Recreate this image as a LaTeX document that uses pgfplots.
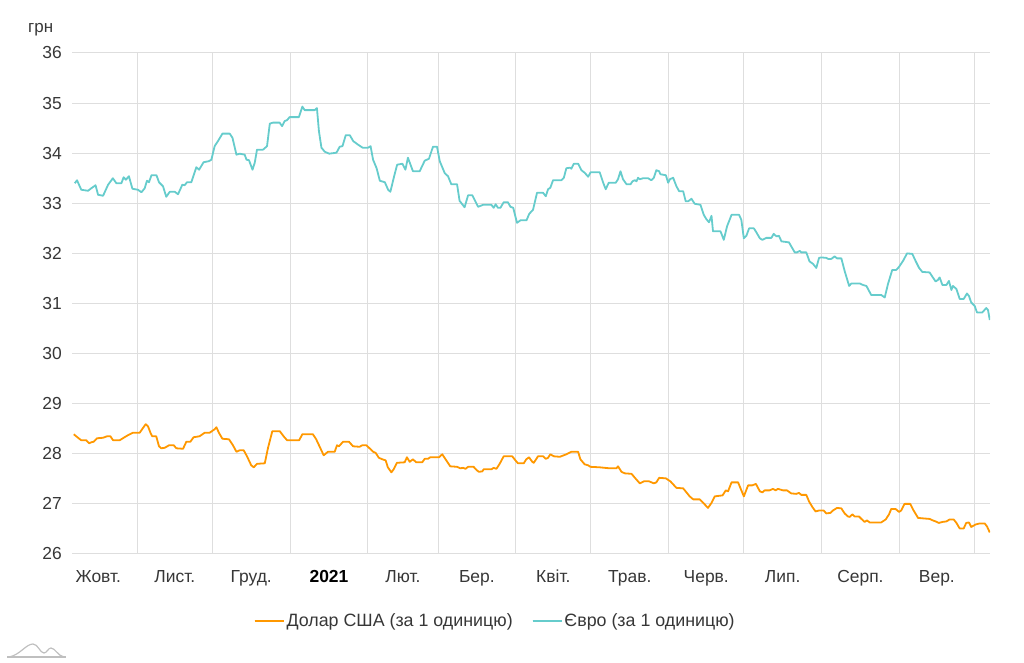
\documentclass[border=0pt]{standalone}
\usepackage{pgfplots}
\pgfplotsset{compat=1.18}
\usepackage{pgfplotstable}
\usepackage{fontspec}
\setmainfont{Liberation Sans}
\definecolor{usd}{RGB}{255,152,0}
\definecolor{eur}{RGB}{102,204,204}
\definecolor{gridc}{RGB}{222,222,222}
\definecolor{txt}{RGB}{55,55,55}

\pgfplotstableread{
d v
6.1 33.40
7.0 33.46
8.7 33.27
11.4 33.25
12.7 33.30
14.4 33.36
15.4 33.17
17.4 33.15
19.4 33.37
21.3 33.50
22.7 33.40
24.7 33.40
25.6 33.52
26.5 33.47
27.7 33.54
29.1 33.29
31.3 33.27
32.7 33.22
34.0 33.30
34.9 33.45
35.7 33.42
36.7 33.56
38.7 33.56
39.7 33.42
41.3 33.34
42.6 33.13
44.0 33.23
46.0 33.23
47.3 33.18
49.0 33.37
49.9 33.36
50.9 33.42
52.6 33.42
54.6 33.72
55.7 33.67
57.5 33.82
59.6 33.84
60.6 33.87
61.9 34.14
63.2 34.24
65.0 34.39
67.9 34.39
69.0 34.31
70.6 33.97
71.9 33.99
73.9 33.97
74.6 33.87
75.6 33.86
77.0 33.67
77.9 33.81
78.8 34.07
81.2 34.07
82.8 34.14
83.9 34.59
85.2 34.61
87.8 34.61
88.8 34.54
89.8 34.64
90.8 34.66
91.8 34.72
95.5 34.72
96.9 34.93
97.8 34.86
101.8 34.86
102.7 34.90
103.5 34.44
104.5 34.11
105.8 34.03
107.6 33.99
110.5 34.01
111.8 34.13
112.9 34.14
114.2 34.36
115.8 34.36
117.2 34.24
119.1 34.17
120.9 34.11
123.1 34.11
124.1 34.14
125.1 33.87
126.5 33.70
127.8 33.45
129.8 33.42
131.1 33.27
132.0 33.23
133.5 33.54
134.7 33.77
136.8 33.79
138.0 33.67
139.0 33.91
141.0 33.64
143.7 33.64
145.7 33.85
147.4 33.89
149.0 34.13
150.6 34.13
151.7 33.84
153.7 33.60
155.0 33.54
156.3 33.38
158.6 33.38
159.6 33.05
161.6 32.92
163.0 33.16
164.7 33.16
167.0 32.93
169.0 32.97
172.3 32.97
173.2 32.91
174.0 32.98
174.9 32.91
175.9 32.91
177.2 33.02
178.9 33.02
179.9 32.93
181.0 32.91
182.5 32.61
183.9 32.66
186.3 32.66
187.4 32.79
188.9 32.87
190.5 33.21
192.9 33.21
194.0 33.14
194.9 33.28
195.8 33.31
196.9 33.46
200.2 33.46
201.2 33.51
202.2 33.70
203.6 33.71
204.2 33.69
205.2 33.79
206.9 33.79
208.2 33.66
209.5 33.61
210.9 33.53
211.9 33.62
215.5 33.62
216.9 33.41
217.9 33.28
219.1 33.41
221.9 33.41
222.8 33.48
223.8 33.64
224.8 33.48
226.2 33.38
227.8 33.38
228.6 33.44
229.5 33.46
230.2 33.44
230.8 33.51
231.5 33.48
232.8 33.50
234.8 33.50
236.1 33.46
237.1 33.51
238.1 33.66
239.2 33.64
239.7 33.58
241.9 33.56
242.8 33.41
243.5 33.48
244.8 33.51
246.1 33.34
247.2 33.24
248.8 33.24
249.8 33.04
250.8 33.04
252.1 33.09
253.4 32.99
255.7 32.97
257.0 32.77
258.1 32.68
259.1 32.62
260.1 32.75
260.7 32.44
263.7 32.44
265.0 32.27
266.3 32.54
268.1 32.77
271.1 32.77
272.0 32.67
273.0 32.30
274.0 32.35
275.1 32.50
277.0 32.50
278.0 32.42
279.4 32.30
280.4 32.27
282.0 32.31
284.0 32.31
284.9 32.39
286.0 32.34
287.0 32.35
288.0 32.24
291.0 32.22
293.3 32.02
294.2 32.02
295.3 32.05
295.9 32.02
297.9 32.02
299.2 31.84
300.6 31.79
301.9 31.71
303.0 31.91
303.9 31.92
305.9 31.91
306.6 31.89
307.9 31.89
309.2 31.94
310.2 31.90
311.9 31.90
313.2 31.65
315.0 31.35
315.9 31.40
319.2 31.40
320.5 31.37
321.9 31.35
323.8 31.17
327.8 31.17
329.2 31.12
330.5 31.39
332.2 31.67
333.8 31.67
334.9 31.73
336.5 31.85
338.1 32.00
340.2 31.99
341.5 31.85
342.9 31.71
344.2 31.63
347.1 31.62
348.4 31.52
349.5 31.44
350.4 31.47
351.1 31.52
352.2 31.37
353.8 31.37
354.8 31.45
355.8 31.27
356.4 31.35
357.8 31.29
359.1 31.09
360.7 31.09
362.0 31.20
362.8 31.15
363.7 31.02
365.1 30.95
366.0 30.82
368.1 30.82
369.7 30.91
370.4 30.87
371.1 30.67
}\eurtable

\pgfplotstableread{
d v
5.7 28.39
7.4 28.32
8.7 28.27
10.7 28.27
11.8 28.21
12.7 28.23
13.6 28.24
15.0 28.31
17.4 28.32
19.0 28.35
20.3 28.35
21.4 28.27
24.0 28.27
25.3 28.31
27.3 28.37
29.3 28.42
32.0 28.42
33.1 28.50
34.4 28.59
35.3 28.55
36.3 28.42
37.0 28.35
38.6 28.35
39.7 28.15
40.6 28.11
42.0 28.12
43.7 28.17
45.6 28.17
46.6 28.11
49.3 28.10
50.6 28.24
52.2 28.24
53.5 28.33
55.9 28.35
57.9 28.42
59.9 28.42
61.9 28.49
62.6 28.53
63.6 28.42
65.0 28.30
67.6 28.29
69.2 28.17
70.6 28.04
71.9 28.07
73.5 28.07
74.8 27.95
76.5 27.77
77.5 27.73
78.8 27.80
81.9 27.81
83.2 28.12
84.9 28.45
87.9 28.45
89.4 28.35
90.8 28.27
95.6 28.27
96.9 28.39
101.1 28.39
102.4 28.29
104.0 28.12
105.4 27.97
107.1 28.04
109.8 28.04
110.7 28.17
111.5 28.15
113.1 28.24
115.5 28.24
117.1 28.15
119.7 28.14
120.8 28.17
122.4 28.17
123.7 28.11
125.1 28.04
126.1 28.02
127.4 27.92
128.8 27.89
130.1 27.87
131.0 27.73
132.4 27.63
133.3 27.69
134.6 27.82
137.7 27.83
138.6 27.93
139.7 27.84
141.0 27.89
142.3 27.83
144.7 27.83
145.7 27.90
147.0 27.90
147.9 27.93
151.4 27.93
152.7 27.99
154.3 27.87
155.9 27.75
158.6 27.74
159.9 27.71
161.0 27.72
162.0 27.70
163.0 27.74
165.2 27.74
166.5 27.67
167.3 27.64
168.7 27.65
169.2 27.69
172.3 27.69
173.2 27.72
174.3 27.70
175.6 27.80
177.2 27.95
180.6 27.95
182.2 27.85
182.9 27.81
185.2 27.81
186.2 27.89
187.3 27.93
188.6 27.84
189.2 27.82
190.9 27.95
192.9 27.95
194.0 27.90
194.9 27.92
195.8 27.99
197.2 27.95
199.6 27.94
202.2 27.99
204.2 28.04
206.9 28.04
207.8 27.89
209.5 27.79
210.9 27.77
211.8 27.74
215.5 27.73
219.5 27.71
222.2 27.71
222.8 27.75
224.2 27.64
225.5 27.61
228.2 27.60
229.9 27.50
231.5 27.41
233.1 27.45
235.2 27.45
237.1 27.41
238.1 27.43
239.2 27.52
241.9 27.51
243.7 27.45
246.1 27.32
248.8 27.31
250.1 27.23
251.4 27.15
252.8 27.09
255.4 27.09
257.0 27.01
258.7 26.92
260.1 27.02
261.4 27.15
264.5 27.17
265.8 27.27
266.7 27.25
268.1 27.43
270.7 27.43
271.6 27.32
273.0 27.15
274.7 27.37
276.4 27.37
277.8 27.40
279.4 27.25
280.4 27.23
281.3 27.27
283.3 27.27
284.6 27.30
285.7 27.27
286.6 27.30
288.6 27.27
290.2 27.27
291.9 27.21
293.9 27.20
295.0 27.22
295.9 27.18
297.9 27.18
299.0 27.05
300.3 26.94
301.6 26.85
303.2 26.87
304.8 26.87
305.9 26.81
307.5 26.82
308.6 26.87
310.2 26.92
311.9 26.91
313.2 26.81
314.5 26.75
315.2 26.74
316.3 26.79
317.2 26.75
318.9 26.75
319.9 26.70
321.2 26.64
322.1 26.67
323.2 26.63
327.8 26.63
329.6 26.69
330.9 26.79
331.8 26.90
333.5 26.90
334.9 26.84
335.8 26.87
337.1 27.00
339.4 27.00
340.7 26.87
342.5 26.72
344.7 26.71
347.1 26.70
348.4 26.67
349.5 26.65
350.8 26.62
352.2 26.64
353.8 26.65
355.1 26.69
356.7 26.69
357.8 26.62
359.1 26.51
360.7 26.51
361.7 26.62
362.8 26.63
363.7 26.54
365.5 26.59
367.1 26.61
369.1 26.61
370.0 26.55
371.1 26.43
}\usdtable

\begin{document}
\begin{tikzpicture}[x=1bp,y=1bp]
\useasboundingbox (0,0) rectangle (1024,663);
\begin{axis}[
  at={(72bp,109bp)}, anchor=south west,
  scale only axis, width=918bp, height=501bp,
  xmin=5, xmax=371.2, ymin=26, ymax=36,
  axis line style={draw=none},
  ytick={26,27,...,36},
  xtick={31,61,92,123,151,182,212,243,273,304,335,365},
  xticklabels={},
  extra x ticks={15.5,46,76.5,107.5,137,166.5,197,227.5,258,288.5,319.5,350},
  extra x tick labels={Жовт.,Лист.,Груд.,\textbf{\color{black}2021},Лют.,Бер.,Квіт.,Трав.,Черв.,Лип.,Серп.,Вер.},
  extra x tick style={grid=none, major tick length=0pt},
  xmajorgrids, ymajorgrids,
  grid style={gridc, line width=1bp},
  major tick length=0pt,
  tick style={draw=none},
  /pgf/number format/assume math mode=true,
  ticklabel style={font=\fontsize{17.5}{20}\selectfont, text=txt},
  yticklabel style={anchor=east, inner sep=0pt},
  yticklabel shift=10bp,
  xticklabel style={anchor=north, inner sep=0pt},
  xticklabel shift=16bp,
  legend style={at={(0.461,-0.134)}, anchor=center, draw=none, fill=none,
    legend columns=2, font=\fontsize{17.9}{20}\selectfont, text=txt,
    /tikz/every even column/.append style={column sep=17bp},
    inner sep=0pt},
  legend image code/.code={\draw[#1, line width=1.8bp] (0bp,0bp) -- (24bp,0bp); \path (0bp,0bp) -- (29bp,0bp);},
  legend cell align=left,
]
\addplot[usd, line width=1.8bp, line join=round] table[x=d,y=v] {\usdtable};
\addlegendentry{Долар США (за 1 одиницю)}
\addplot[eur, line width=1.8bp, line join=round] table[x=d,y=v] {\eurtable};
\addlegendentry{Євро (за 1 одиницю)}
\end{axis}
\node[anchor=base west, inner sep=0pt, text=txt, font=\fontsize{17}{20}\selectfont] at (28,630) {грн};
\draw[gray!50, line width=1.2bp] (7,6) -- (66,6);
\draw[gray!50, line width=1.2bp, line join=round] (9,6) .. controls (20,8) and (26,19) .. (33,19) .. controls (38,19) and (40,10) .. (44,10) .. controls (47,10) and (48,15) .. (51,15) .. controls (55,15) and (58,7) .. (64,6);
\end{tikzpicture}
\end{document}
